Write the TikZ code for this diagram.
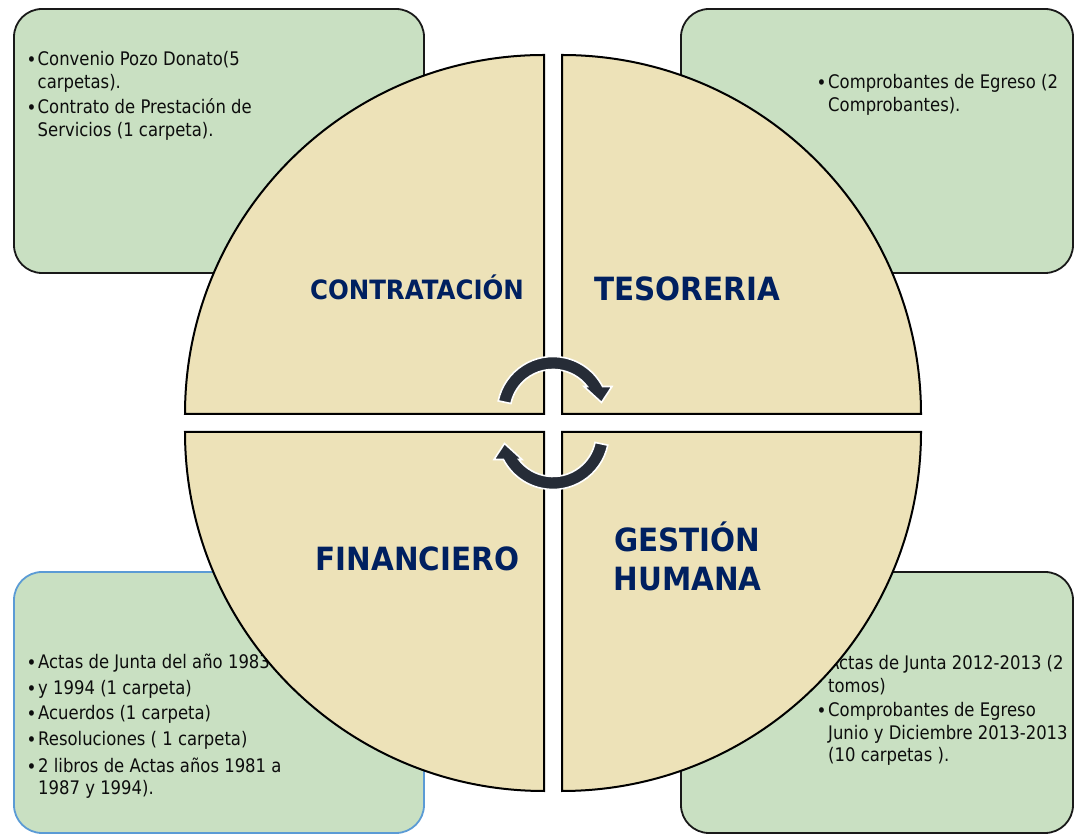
\documentclass[tikz,border=0pt]{standalone}
\usepackage{fontspec}
\setmainfont{DejaVu Sans}[FakeStretch=0.88]
\newfontfamily\titlefont{DejaVu Sans}[FakeStretch=0.92]
\definecolor{boxgreen}{HTML}{C9E0C2}
\definecolor{circtan}{HTML}{EDE2B8}
\definecolor{titleblue}{HTML}{002060}
\definecolor{arrowdark}{HTML}{262C37}
\definecolor{bluebord}{HTML}{5B9BD5}
\tikzset{
  greenbox/.style={fill=boxgreen, draw=black!90, line width=1.8pt, rounded corners=28pt},
  quad/.style={fill=circtan, draw=black, line width=2pt, line join=miter},
  bodytxt/.style={anchor=base west, inner sep=0pt, font=\fontsize{18.7}{22.4}\selectfont, text=black!95},
  bul/.style={anchor=base, inner sep=0pt, font=\fontsize{19}{19}\selectfont, text=black!95},
  ttl/.style={anchor=base, inner sep=0pt, text=titleblue, font={\titlefont\bfseries\fontsize{32}{36}\selectfont}},
  cyc/.style={fill=arrowdark, draw=white, line width=1.6pt, line join=miter},
  cyclearrow/.pic={
    \draw[cyc] (168:56pt) arc[start angle=168,end angle=27.7,radius=56pt]
      -- (59pt,26pt) -- (48.5pt,10pt) -- (31pt,26pt) -- (37.2:43pt)
      arc[start angle=37.2,end angle=168,radius=43pt] -- cycle;
  }
}
\begin{document}
\begin{tikzpicture}[x=1pt,y=1pt]
\useasboundingbox (0,0) rectangle (1074,835);
% green boxes
\draw[greenbox] (14,562) rectangle (424,826);
\draw[greenbox] (681,562) rectangle (1073,826);
\draw[greenbox, draw=bluebord] (14,2) rectangle (424,263);
\draw[greenbox] (681,2) rectangle (1073,263);
% box texts: top left
\node[bul] (b1) at (31.5,768) {•};
\node[bodytxt] (t1a) at (37.5,769) {Convenio Pozo Donato(5};
\node[bodytxt] (t1b) at (37.5,746.7) {carpetas).};
\node[bul] (b2) at (31.5,720) {•};
\node[bodytxt] (t2a) at (37.5,721) {Contrato de Prestación de};
\node[bodytxt] (t2b) at (37.5,698.3) {Servicios (1 carpeta).};
% top right
\node[bul] (b3) at (821.5,745.7) {•};
\node[bodytxt] (t3a) at (828,746.7) {Comprobantes de Egreso (2};
\node[bodytxt] (t3b) at (828,723.3) {Comprobantes).};
% bottom left
\node[bul] (b4) at (31.5,165.7) {•};
\node[bodytxt] (t4) at (38,166.7) {Actas de Junta del año 1983};
\node[bul] (b5) at (31.5,139.7) {•};
\node[bodytxt] (t5) at (38,140.7) {y 1994 (1 carpeta)};
\node[bul] (b6) at (31.5,114) {•};
\node[bodytxt] (t6) at (38,115) {Acuerdos (1 carpeta)};
\node[bul] (b7) at (31.5,88) {•};
\node[bodytxt] (t7) at (38,89) {Resoluciones ( 1 carpeta)};
\node[bul] (b8) at (31.5,61.3) {•};
\node[bodytxt] (t8a) at (38,62.3) {2 libros de Actas años 1981 a};
\node[bodytxt] (t8b) at (38,40) {1987 y 1994).};
% bottom right
\node[bul] (b9) at (821.5,164) {•};
\node[bodytxt] (t9a) at (828,165) {Actas de Junta 2012-2013 (2};
\node[bodytxt] (t9b) at (828,142.3) {tomos)};
\node[bul] (b10) at (821.5,117.3) {•};
\node[bodytxt] (t10a) at (828,118.3) {Comprobantes de Egreso};
\node[bodytxt] (t10b) at (828,95) {Junio y Diciembre 2013-2013};
\node[bodytxt] (t10c) at (828,73) {(10 carpetas ).};
% circle quadrants
\draw[quad] (544,421) -- (185,421) arc[start angle=180,end angle=90,radius=359pt] -- cycle;
\draw[quad] (562,421) -- (562,780) arc[start angle=90,end angle=0,radius=359pt] -- cycle;
\draw[quad] (562,403) -- (921,403) arc[start angle=0,end angle=-90,radius=359pt] -- cycle;
\draw[quad] (544,403) -- (544,44) arc[start angle=270,end angle=180,radius=359pt] -- cycle;
% titles
\node[ttl, font={\titlefont\bfseries\fontsize{26.6}{30}\selectfont}] (contr) at (417,535.7) {CONTRATACIÓN};
\node[ttl] (teso) at (687,534.3) {TESORERIA};
\node[ttl] (fin) at (417.5,264.3) {FINANCIERO};
\node[ttl] (gest) at (687.5,283) {GESTIÓN};
\node[ttl] (hum) at (687.5,244) {HUMANA};
% cycle arrows
\pic at (553,422.5) {cyclearrow};
\pic[rotate=180] at (553,401.5) {cyclearrow};
\end{tikzpicture}
\end{document}
